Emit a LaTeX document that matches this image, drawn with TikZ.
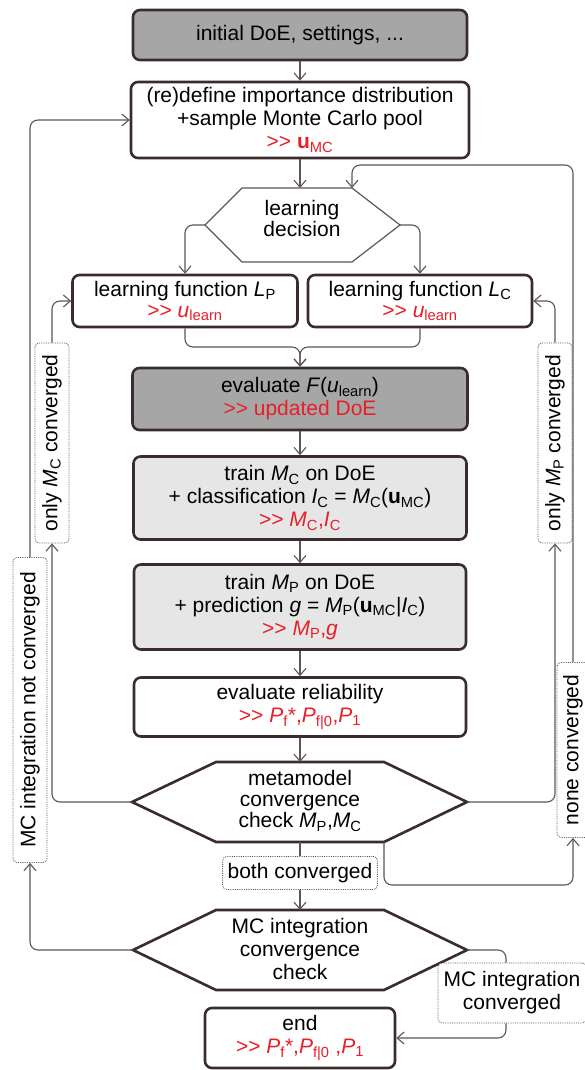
\documentclass[tikz,border=0pt]{standalone}
\usepackage{fontspec}
\setmainfont{Liberation Sans}
\usepackage{tikz}
\usetikzlibrary{arrows.meta}

\definecolor{boxline}{RGB}{58,44,44}
\definecolor{connline}{RGB}{95,85,85}
\definecolor{darkfill}{RGB}{166,166,166}
\definecolor{lightfill}{RGB}{230,230,230}
\definecolor{outred}{RGB}{232,30,40}
\newcommand{\outtext}[1]{\textcolor{outred}{{>}{>} #1}}

\begin{document}
\begin{tikzpicture}[x=1pt, y=-1pt, >={Straight Barb[length=7pt,width=12pt]},
	font=\fontsize{21}{23}\selectfont,
	flowbox/.style={
		% The shape:
		rectangle, rounded corners=7pt,
		% The border
		line width=2.6pt, draw=boxline,
		% The filling
		fill=white, align=center, inner sep=2pt},
	darkbox/.style={flowbox, fill=darkfill},
	lightbox/.style={flowbox, fill=lightfill},
	hexthick/.style={line width=2.6pt, draw=boxline, fill=white},
	hexthin/.style={line width=1.2pt, draw=connline, fill=white},
	hextext/.style={align=center, inner sep=0pt},
	tag/.style={
		% The shape:
		rectangle, rounded corners=4pt,
		% The border
		densely dotted, line width=0.8pt, draw=connline,
		% The filling
		fill=white, align=center, inner xsep=5pt, inner ysep=3pt},
	conn/.style={line width=1.1pt, draw=connline, rounded corners=8pt}]
    \useasboundingbox (0,0) rectangle (584,1070);
    \fill [white] (0,0) rectangle (584,1070);
    % main column
    \node [darkbox, minimum width=334pt, minimum height=50pt] (init) at (300,35) {initial DoE, settings, ...};
    \node [flowbox, minimum width=338pt, minimum height=76pt] (define) at (300,120) {(re)define importance distribution\\+sample Monte Carlo pool\\\outtext{\textbf{u}\textsubscript{MC}}};
    \draw [hexthin] (205,225) coordinate (dec-w) -- (242,188) -- (352,188) coordinate (dec-ne) -- (400,225) coordinate (dec-e) -- (352,262) -- (242,262) -- cycle;
    \coordinate (dec-n) at (300,188);
    \node [hextext, font=\fontsize{21}{21}\selectfont] (dectxt) at (302,218) {learning\\decision};
    \node [flowbox, minimum width=225pt, minimum height=52pt, font=\fontsize{21}{21}\selectfont] (LP) at (185,301) {learning function \textit{L}\textsubscript{P}\\\outtext{\textit{u}\textsubscript{learn}}};
    \node [flowbox, minimum width=224pt, minimum height=52pt, font=\fontsize{21}{21}\selectfont] (LC) at (420,301) {learning function \textit{L}\textsubscript{C}\\\outtext{\textit{u}\textsubscript{learn}}};
    \coordinate (merge) at (300,347);
    \node [darkbox, minimum width=335pt, minimum height=62pt] (evalF) at (300,399) {evaluate \textit{F}(\textit{u}\textsubscript{learn})\\\outtext{updated DoE}};
    \node [lightbox, minimum width=333pt, minimum height=83pt] (trainMC) at (300,498) {train \textit{M}\textsubscript{C} on DoE\\+ classification \textit{I}\textsubscript{C} = \textit{M}\textsubscript{C}(\textbf{u}\textsubscript{MC})\\\outtext{\textit{M}\textsubscript{C},\textit{I}\textsubscript{C}}};
    \node [lightbox, minimum width=332pt, minimum height=85pt] (trainMP) at (300,607) {train \textit{M}\textsubscript{P} on DoE\\+ prediction \textit{g} = \textit{M}\textsubscript{P}(\textbf{u}\textsubscript{MC}|\textit{I}\textsubscript{C})\\\outtext{\textit{M}\textsubscript{P},\textit{g}}};
    \node [flowbox, minimum width=332pt, minimum height=59pt] (reliab) at (300,707) {evaluate reliability\\\outtext{\textit{P}\textsubscript{f}*,\textit{P}\textsubscript{f|0},\textit{P}\textsubscript{1}}};
    \draw [hexthick] (132,802) coordinate (meta-w) -- (216,762) -- (384,762) -- (467,802) coordinate (meta-e) -- (384,842) coordinate (meta-se) -- (216,842) -- cycle;
    \coordinate (meta-n) at (300,762);
    \coordinate (meta-s) at (300,842);
    \node [hextext, font=\fontsize{21}{21}\selectfont] (metatxt) at (300,801) {metamodel\\convergence\\check \textit{M}\textsubscript{P},\textit{M}\textsubscript{C}};
    \draw [hexthick] (133,950) coordinate (mc-w) -- (216,910) -- (384,910) -- (467,950) coordinate (mc-e) -- (384,990) -- (216,990) -- cycle;
    \coordinate (mc-n) at (300,910);
    \node [hextext] (mctxt) at (300,949) {MC integration\\convergence\\check};
    \node [flowbox, minimum width=190pt, minimum height=60pt] (finish) at (300,1038) {end\\\outtext{\textit{P}\textsubscript{f}*,\textit{P}\textsubscript{f|0} ,\textit{P}\textsubscript{1}}};
    % branch labels
    \node [tag, rotate=90, minimum width=200pt, minimum height=34pt] (onlyMC) at (52,443) {only \textit{M}\textsubscript{C} converged};
    \node [tag, rotate=90, minimum width=305pt, minimum height=34pt] (notconv) at (30,710) {MC integration not converged};
    \node [tag, rotate=90, minimum width=200pt, minimum height=34pt] (onlyMP) at (555,443) {only \textit{M}\textsubscript{P} converged};
    \node [tag, rotate=90, minimum width=175pt, minimum height=32pt] (none) at (573,750) {none converged};
    \node [tag, minimum height=33pt] (both) at (300,873) {both converged};
    \node [tag, minimum width=148pt, minimum height=60pt] (mcconv) at (512,993) {MC integration\\converged};
    % connectors
    \draw [conn, ->] (init) -- (define);
    \draw [conn, ->] (define) -- (dec-n);
    \draw [conn, ->] (dec-w) -| (LP);
    \draw [conn, ->] (dec-e) -| (LC);
    \draw [conn, ->] (LP) |- (merge) -- (evalF);
    \draw [conn, ->] (LC) |- (merge) -- (evalF);
    \draw [conn, ->] (evalF) -- (trainMC);
    \draw [conn, ->] (trainMC) -- (trainMP);
    \draw [conn, ->] (trainMP) -- (reliab);
    \draw [conn, ->] (reliab) -- (meta-n);
    \draw [conn, ->] (meta-s) -- (both) -- (mc-n);
    \draw [conn, ->] (meta-w) -| (onlyMC);
    \draw [conn, ->] (onlyMC) |- (LP);
    \draw [conn, ->] (meta-e) -| (onlyMP);
    \draw [conn, ->] (onlyMP) |- (LC);
    \draw [conn, ->] (meta-se) -- ++(0,43) -| (none);
    \draw [conn, ->] (none) |- ([yshift=23pt]dec-ne) -- (dec-ne);
    \draw [conn, ->] (mc-w) -| (notconv);
    \draw [conn, ->] (notconv) |- (define);
    \draw [conn] (mc-e) -| ([xshift=-6pt]mcconv.north);
    \draw [conn, ->] ([xshift=-6pt]mcconv.south) |- (finish);
\end{tikzpicture}
\end{document}
